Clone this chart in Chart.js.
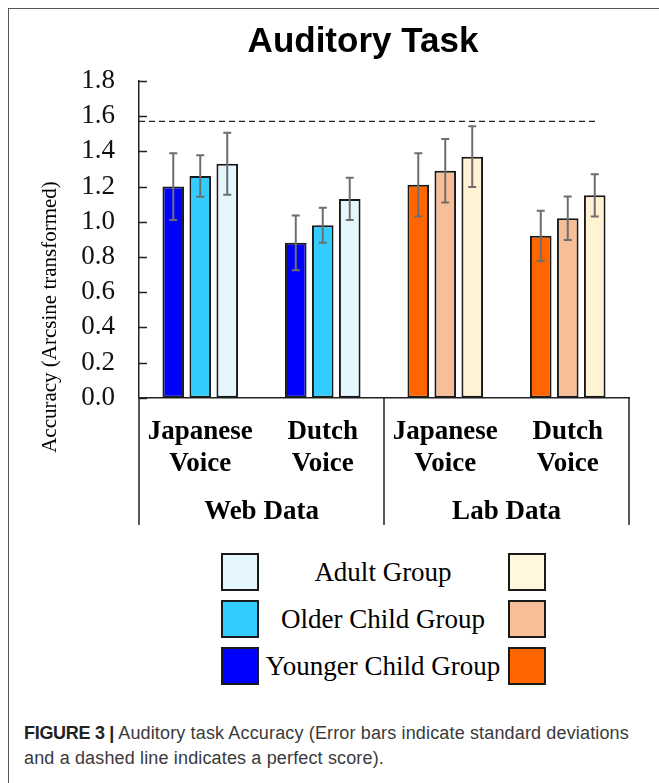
<!DOCTYPE html>
<html>
<head>
<meta charset="utf-8">
<script src="https://cdn.jsdelivr.net/npm/chart.js@4.4.1/dist/chart.umd.min.js"></script>
<style>
  html, body { margin: 0; padding: 0; background: #fff; }
  body { width: 659px; height: 783px; position: relative; overflow: hidden; }
  #frame { position: absolute; left: 8px; top: 8px; width: 700px; height: 800px;
           border-left: 1.5px solid #555; border-top: 1.5px solid #555; }
  #wrap { position: absolute; left: 0; top: 0; width: 659px; height: 540px; }
  .swatch { position: absolute; width: 34px; height: 34px; border: 2px solid #1a1a1a; }
  .legtext { position: absolute; left: 256px; width: 254px; text-align: center;
             font-family: 'Liberation Serif', 'Times New Roman', serif; font-size: 27px; color: #000;
             line-height: 30px; white-space: nowrap; }
  #caption { position: absolute; left: 24px; top: 721px; width: 640px; white-space: nowrap;
             font-family: 'Liberation Sans', Arial, sans-serif; font-size: 18px; line-height: 25px;
             color: #3a3a3a; letter-spacing: 0.15px; }
  #caption b { color: #222; letter-spacing: -0.3px; }
</style>
</head>
<body>
<div id="frame"></div>
<div id="wrap"><canvas id="chart" width="659" height="540"></canvas></div>
<div id="legend"></div>
<div id="caption"><b>FIGURE 3 |</b> Auditory task Accuracy (Error bars indicate standard deviations<br>and a dashed line indicates a perfect score).</div>
<script>
// categories and groups
const voices = [['Japanese', 'Voice'], ['Dutch', 'Voice'], ['Japanese', 'Voice'], ['Dutch', 'Voice']];
const sources = ['Web Data', 'Lab Data'];
const groups = ['Younger Child Group', 'Older Child Group', 'Adult Group'];

// means and standard deviations (arcsine transformed)
const younger = [1.20, 0.88, 1.21, 0.92];
const youngerSD = [0.19, 0.155, 0.18, 0.143];
const older = [1.26, 0.98, 1.29, 1.02];
const olderSD = [0.118, 0.099, 0.18, 0.123];
const adult = [1.33, 1.13, 1.37, 1.15];
const adultSD = [0.176, 0.12, 0.173, 0.12];
const perfectScore = 1.57;

const yMin = 0, yMax = 1.8, yStep = 0.2;

const webColors = ['#0000FF', '#33CCFF', '#E5F7FD'];
const labColors = ['#FF6600', '#F7BE98', '#FFF3D4'];
const legendLabColors = ['#FF6600', '#F7BE98', '#FFF8DE'];

const serif = "'Liberation Serif', 'Times New Roman', serif";

function colorsFor(i) {
    // first two categories are web data, last two lab data
    return voices.map((v, idx) => idx < 2 ? webColors[i] : labColors[i]);
}

const series = [younger, older, adult];
const sds = [youngerSD, olderSD, adultSD];

const decor = {
    id: 'decor',
    afterDatasetsDraw(chart) {
        const ctx = chart.ctx;
        const y = chart.scales.y;
        const x = chart.scales.x;
        const area = chart.chartArea;
        ctx.save();

        // error bars
        ctx.strokeStyle = '#6e6e6e';
        ctx.lineWidth = 2;
        chart.data.datasets.forEach((ds, di) => {
            chart.getDatasetMeta(di).data.forEach((bar, i) => {
                const top = y.getPixelForValue(ds.data[i] + sds[di][i]);
                const bot = y.getPixelForValue(ds.data[i] - sds[di][i]);
                ctx.beginPath();
                ctx.moveTo(bar.x, top); ctx.lineTo(bar.x, bot);
                ctx.moveTo(bar.x - 4, top); ctx.lineTo(bar.x + 4, top);
                ctx.moveTo(bar.x - 4, bot); ctx.lineTo(bar.x + 4, bot);
                ctx.stroke();
            });
        });

        // perfect score line
        const lastBar = chart.getDatasetMeta(2).data[3];
        const py = y.getPixelForValue(perfectScore);
        ctx.strokeStyle = '#222';
        ctx.lineWidth = 1.2;
        ctx.setLineDash([6, 4]);
        ctx.beginPath();
        ctx.moveTo(area.left, py); ctx.lineTo(lastBar.x + 3, py);
        ctx.stroke();
        ctx.setLineDash([]);

        // inward y ticks
        ctx.strokeStyle = '#222';
        ctx.lineWidth = 1.5;
        y.ticks.forEach(t => {
            const ty = Math.round(y.getPixelForValue(t.value)) + 0.5;
            ctx.beginPath();
            ctx.moveTo(area.left, ty); ctx.lineTo(area.left + 8, ty);
            ctx.stroke();
        });

        // separators under the axis between data sources
        const x2 = chart.scales.x2;
        const mid = (x.getPixelForValue(1) + x.getPixelForValue(2)) / 2;
        [area.left, mid, area.right].forEach(px => {
            ctx.beginPath();
            ctx.moveTo(px, area.bottom); ctx.lineTo(px, x2.bottom);
            ctx.stroke();
        });

        // title
        ctx.fillStyle = '#000';
        ctx.font = "bold 35px 'Liberation Sans', Arial, sans-serif";
        ctx.textAlign = 'center';
        ctx.textBaseline = 'alphabetic';
        ctx.fillText('Auditory Task', 363, 52);

        // y axis title
        ctx.translate(56, 317);
        ctx.rotate(-Math.PI / 2);
        ctx.font = '21px ' + serif;
        ctx.textBaseline = 'alphabetic';
        ctx.fillText('Accuracy (Arcsine transformed)', 0, 0);
        ctx.restore();
    }
};

new Chart(document.getElementById('chart'), {
    type: 'bar',
    data: {
        labels: voices,
        datasets: series.map((data, i) => ({
            label: groups[i],
            data,
            backgroundColor: colorsFor(i),
            borderColor: '#1a1a1a',
            borderWidth: 2,
            borderSkipped: false,
            categoryPercentage: 0.661,
            barPercentage: 0.8
        }))
    },
    options: {
        responsive: false,
        animation: false,
        layout: { padding: { top: 81, left: 0, right: 30, bottom: 15 } },
        plugins: {
            legend: { display: false },
            tooltip: { enabled: false }
        },
        scales: {
            y: {
                min: yMin, max: yMax,
                afterFit(scale) { scale.width = 139; },
                ticks: {
                    stepSize: yStep,
                    autoSkip: false,
                    padding: 24,
                    color: '#111',
                    font: { family: serif, size: 27 },
                    callback: v => v.toFixed(1)
                },
                grid: { display: false, drawTicks: false },
                border: { display: true, color: '#222', width: 1.5 }
            },
            x: {
                afterFit(scale) { scale.height = 80; },
                ticks: {
                    padding: 19,
                    color: '#000',
                    font: { family: serif, size: 27, weight: 'bold', lineHeight: 1.16 }
                },
                grid: { display: false, drawTicks: false },
                border: { display: true, color: '#222', width: 1.5 }
            },
            x2: {
                type: 'category',
                labels: sources,
                position: 'bottom',
                offset: true,
                afterFit(scale) { scale.height = 47.3; },
                ticks: {
                    padding: 18,
                    color: '#000',
                    font: { family: serif, size: 27, weight: 'bold' }
                },
                grid: { display: false, drawTicks: false },
                border: { display: false }
            }
        }
    },
    plugins: [decor]
});

// legend: rows top to bottom adult, older, younger
const legend = document.getElementById('legend');
const rowTops = [553, 600, 647];
[2, 1, 0].forEach((gi, row) => {
    const top = rowTops[row];
    const left = document.createElement('div');
    left.className = 'swatch';
    left.style.left = '221px';
    left.style.top = top + 'px';
    left.style.background = webColors[gi];
    const right = document.createElement('div');
    right.className = 'swatch';
    right.style.left = '508px';
    right.style.top = top + 'px';
    right.style.background = legendLabColors[gi];
    const text = document.createElement('div');
    text.className = 'legtext';
    text.style.top = (top + 4) + 'px';
    text.textContent = groups[gi];
    legend.append(left, right, text);
});
</script>
</body>
</html>
